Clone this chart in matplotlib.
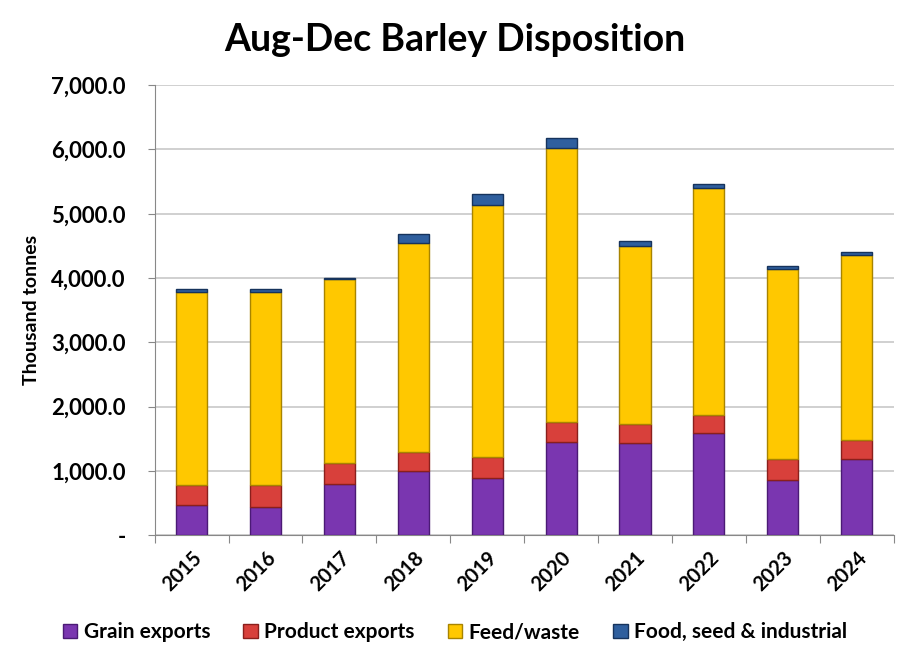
import matplotlib.pyplot as plt
import numpy as np
from matplotlib.ticker import FuncFormatter

years = ["2015", "2016", "2017", "2018", "2019", "2020", "2021", "2022", "2023", "2024"]
grain_exports = [474, 447, 795, 1001, 898, 1457, 1432, 1587, 862, 1183]
product_exports = [310, 337, 326, 300, 326, 310, 299, 284, 321, 300]
feed_waste = [3002, 3002, 2857, 3246, 3908, 4255, 2769, 3530, 2955, 2873]
food_seed_ind = [37, 37, 25, 145, 171, 161, 73, 68, 52, 42]

series = [
    ("Grain exports", grain_exports, "#7A36B0", "#4B1A75"),
    ("Product exports", product_exports, "#D8403B", "#8A1F1C"),
    ("Feed/waste", feed_waste, "#FFC800", "#A88400"),
    ("Food, seed & industrial", food_seed_ind, "#2F5F9E", "#16335C"),
]

plt.rcParams['font.family'] = ['Lato', 'DejaVu Sans']

fig = plt.figure(figsize=(9.1, 6.6), dpi=100)
ax = fig.add_axes([0.170, 0.189, 0.812, 0.682])

x = np.arange(len(years))
bottom = np.zeros(len(years))
for name, vals, col, edge in series:
    vals = np.array(vals)
    ax.bar(x, vals, 0.42, bottom=bottom, color=col, edgecolor=edge,
           linewidth=1.0, label=name, zorder=3)
    bottom += vals

ax.set_xlim(-0.5, len(years) - 0.5)
ax.set_ylim(0, 7000)
ax.set_yticks(np.arange(0, 7001, 1000))
ax.yaxis.set_major_formatter(FuncFormatter(lambda v, p: "-" if v == 0 else f"{v:,.1f}"))
ax.grid(axis='y', color='#c8c8c8', linewidth=1.2, zorder=0)

# category boundary ticks on the x axis
ax.set_xticks(np.arange(-0.5, len(years), 1))
ax.set_xticklabels([])
ax.set_xticks(x, minor=True)
ax.set_xticklabels(years, minor=True, rotation=45, ha='right', rotation_mode='anchor',
                   fontsize=14.5, fontweight='bold')
ax.tick_params(axis='x', which='minor', length=0, pad=9)
ax.tick_params(axis='x', which='major', length=6, color='#888888')
ax.tick_params(axis='y', length=5, color='#888888', pad=16, labelsize=16)
for lab in ax.get_yticklabels():
    lab.set_fontweight('bold')

for s in ['top', 'right']:
    ax.spines[s].set_visible(False)
for s in ['left', 'bottom']:
    ax.spines[s].set_color('#888888')

ax.set_ylabel("Thousand tonnes", fontsize=14, fontweight='bold', labelpad=8)
fig.text(0.5, 0.94, "Aug-Dec Barley Disposition", ha='center', va='center',
         fontsize=27, fontweight='bold')

handles, labels = ax.get_legend_handles_labels()
fig.legend(handles, labels, loc='center', bbox_to_anchor=(0.5, 0.042), ncol=4,
           frameon=False, prop={'weight': 'bold', 'size': 15},
           handlelength=0.7, handleheight=0.7, handletextpad=0.3, columnspacing=1.6)

fig.savefig("out.png", dpi=100)
